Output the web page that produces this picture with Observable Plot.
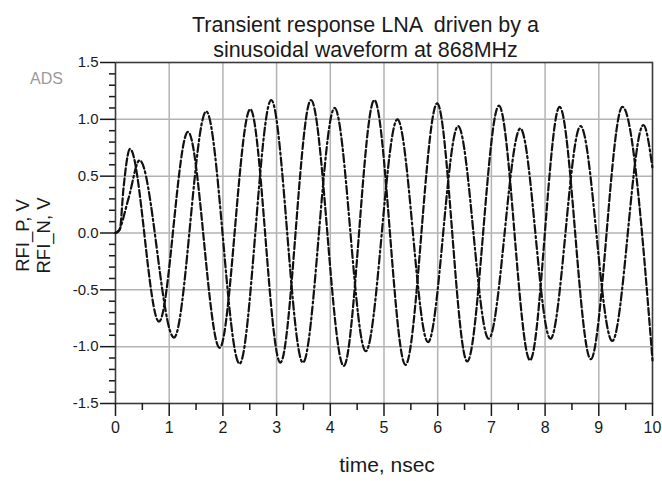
<!DOCTYPE html>
<html><head><meta charset="utf-8">
<script src="https://cdn.jsdelivr.net/npm/d3@7"></script>
<script src="https://cdn.jsdelivr.net/npm/@observablehq/plot@0.6"></script>
<style>body{margin:0;background:#fff;}</style>
</head><body><div id="chart"></div>
<script>
// ---- text ----
const titleLines = ["Transient response LNA  driven by a", "sinusoidal waveform at 868MHz"];
const yLabelLines = ["RFI_P, V", "RFI_N, V"];
const xLabel = "time, nsec";
const cornerTag = "ADS";

// ---- ticks ----
const xTicks = [0, 1, 2, 3, 4, 5, 6, 7, 8, 9, 10];
const xMinorTicks = [0.5, 1.5, 2.5, 3.5, 4.5, 5.5, 6.5, 7.5, 8.5, 9.5];
const yTicks = [-1.5, -1.0, -0.5, 0.0, 0.5, 1.0, 1.5];
const yMinorTicks = [-1.4, -1.3, -1.2, -1.1, -0.9, -0.8, -0.7, -0.6, -0.4, -0.3, -0.2, -0.1,
                     0.1, 0.2, 0.3, 0.4, 0.6, 0.7, 0.8, 0.9, 1.1, 1.2, 1.3, 1.4];

// ---- series (time in ns, value in V) at start, peaks and troughs ----
const timeP = [0, 0.08, 0.15, 0.27, 0.81, 1.35, 1.94, 2.51, 3.07, 3.64, 4.25, 4.82, 5.40, 5.99, 6.55, 7.14, 7.72, 8.27, 8.85, 9.44, 10.0];
const voltP = [0, 0.03, 0.40, 0.74, -0.78, 0.89, -1.01, 1.09, -1.14, 1.17, -1.17, 1.17, -1.16, 1.14, -1.13, 1.12, -1.12, 1.11, -1.11, 1.11, -1.12];
const timeN = [0, 0.06, 0.24, 0.45, 1.09, 1.69, 2.31, 2.90, 3.49, 4.08, 4.66, 5.25, 5.82, 6.38, 6.95, 7.54, 8.10, 8.66, 9.25, 9.83, 10.0];
const voltN = [0, 0.02, 0.30, 0.64, -0.92, 1.07, -1.15, 1.17, -1.14, 1.10, -1.04, 1.00, -0.96, 0.94, -0.93, 0.92, -0.93, 0.94, -0.95, 0.95, 0.57];

const rowsP = timeP.map((t, i) => ({t, v: voltP[i]}));
const rowsN = timeN.map((t, i) => ({t, v: voltN[i]}));

const font = "'Liberation Sans', Arial, Helvetica, sans-serif";
const ink = "#1a1a1a";

const plot = Plot.plot({
  width: 662,
  height: 481,
  marginLeft: 115,
  marginRight: 10,
  marginTop: 62,
  marginBottom: 78,
  style: {fontFamily: font, background: "#fff", color: ink},
  x: {domain: [0, 10]},
  y: {domain: [-1.5, 1.5]},
  marks: [
    Plot.gridX(xTicks.slice(1, -1), {stroke: "#b3b3b3", strokeOpacity: 1, strokeWidth: 1.5}),
    Plot.gridY(yTicks.slice(1, -1), {stroke: "#b3b3b3", strokeOpacity: 1, strokeWidth: 1.5}),
    Plot.frame({stroke: "#3a3a3a", strokeWidth: 1.6}),
    Plot.axisX(xTicks, {tickSize: 13, tickPadding: 5, fontSize: 16, strokeWidth: 1.5, color: ink, label: null, tickFormat: d => String(d)}),
    Plot.axisX(xMinorTicks, {tickSize: 7, strokeWidth: 1.5, color: ink, text: null, label: null}),
    Plot.axisY(yTicks, {tickSize: 15, tickPadding: 2, fontSize: 15, strokeWidth: 1.5, color: ink, label: null, tickFormat: d => d.toFixed(1)}),
    Plot.axisY(yMinorTicks, {tickSize: 6, strokeWidth: 1.5, color: ink, text: null, label: null}),
    Plot.line(rowsP, {x: "t", y: "v", curve: "monotone-x", stroke: "#111", strokeWidth: 2.2, strokeDasharray: "7,3"}),
    Plot.line(rowsN, {x: "t", y: "v", curve: "monotone-x", stroke: "#111", strokeWidth: 2.2, strokeDasharray: "8,3,2,3"}),
    Plot.text([titleLines[0]], {text: d => d, frameAnchor: "top", textAnchor: "middle", dx: -18.5, dy: -31, lineAnchor: "bottom", fontSize: 21.5, fill: ink, ariaLabel: "title1"}),
    Plot.text([titleLines[1]], {text: d => d, frameAnchor: "top", textAnchor: "middle", dx: -18.5, dy: -6, lineAnchor: "bottom", fontSize: 21.5, fill: ink, ariaLabel: "title2"}),
    Plot.text([yLabelLines[0]], {text: d => d, frameAnchor: "left", textAnchor: "middle", rotate: -90, dx: -87, dy: 2.5, lineAnchor: "bottom", fontSize: 18.5, fill: ink}),
    Plot.text([yLabelLines[1]], {text: d => d, frameAnchor: "left", textAnchor: "middle", rotate: -90, dx: -66, dy: 2.5, lineAnchor: "bottom", fontSize: 18.5, fill: ink}),
    Plot.text([xLabel], {text: d => d, frameAnchor: "bottom", textAnchor: "middle", dx: 3, dy: 68, lineAnchor: "bottom", fontSize: 21, fill: ink}),
    Plot.text([cornerTag], {text: d => d, frameAnchor: "top-left", textAnchor: "middle", dx: -69, dy: 21, lineAnchor: "bottom", fontSize: 16, fill: "#9a9a9a", ariaLabel: "tag"})
  ]
});

const svg = d3.select(plot);
svg.select('g[aria-label="title1"] text').attr("textLength", 380).attr("lengthAdjust", "spacingAndGlyphs").style("white-space", "pre");
svg.select('g[aria-label="title2"] text').attr("textLength", 338).attr("lengthAdjust", "spacingAndGlyphs");
svg.select('g[aria-label="tag"] text').attr("textLength", 32).attr("lengthAdjust", "spacingAndGlyphs");
document.getElementById("chart").appendChild(plot);
</script>
</body></html>
